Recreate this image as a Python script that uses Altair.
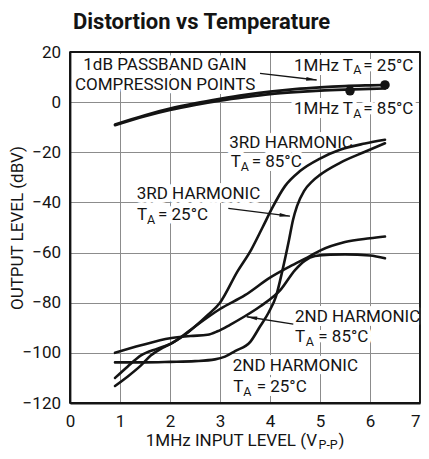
import math
import altair as alt
import pandas as pd

# ---------------- data ----------------
gain25_x = [0.9, 1.5, 2.0, 2.5, 3.0, 3.5, 4.0, 4.5, 5.0, 5.5, 6.0, 6.3]
gain25_y = [-8.9, -5.2, -2.6, -0.5, 1.3, 2.9, 4.2, 5.2, 5.9, 6.4, 6.7, 6.85]
gain85_x = [0.9, 1.5, 2.0, 2.5, 3.0, 3.5, 4.0, 4.5, 5.0, 5.5, 6.0, 6.3]
gain85_y = [-9.2, -5.6, -3.1, -1.1, 0.6, 2.0, 3.2, 4.0, 4.6, 5.0, 5.3, 5.45]

comp_x = [6.3, 5.6]
comp_y = [6.85, 4.5]

h3_85_x = [0.9, 1.15, 1.42, 1.62, 1.85, 2.05, 2.25, 2.5, 2.75, 3.0, 3.35, 3.62, 3.85,
           4.05, 4.3, 4.6, 5.0, 5.4, 5.9, 6.3]
h3_85_y = [-113.2, -109.5, -105.0, -101.0, -98.0, -96.0, -93.5, -89.5, -85.0, -80.0,
           -67.5, -59.0, -50.0, -42.0, -33.5, -27.5, -22.5, -19.0, -16.5, -15.0]

h3_25_x = [0.9, 1.5, 2.0, 2.5, 2.9, 3.1, 3.3, 3.61, 3.8, 3.97, 4.12, 4.25, 4.38, 4.46,
           4.54, 4.68, 4.85, 5.0, 5.4, 5.9, 6.3]
h3_25_y = [-103.8, -103.8, -103.6, -103.3, -102.6, -101.5, -99.3, -95.5, -89.5, -84.0,
           -77.5, -67.0, -55.0, -47.0, -41.5, -35.5, -31.5, -29.0, -24.2, -19.8, -16.4]

h2_85_x = [0.9, 1.15, 1.42, 1.75, 2.0, 2.2, 2.5, 3.0, 3.5, 4.0, 4.4, 4.78, 5.0, 5.5,
           6.0, 6.3]
h2_85_y = [-110.0, -105.5, -101.0, -98.3, -96.5, -94.0, -89.5, -82.5, -77.0, -70.0,
           -65.5, -61.6, -59.2, -55.8, -54.3, -53.6]

h2_25_x = [0.9, 1.42, 2.0, 2.41, 2.75, 2.95, 3.2, 3.48, 3.8, 4.21, 4.5, 4.7, 4.9, 5.2,
           5.5, 6.0, 6.3]
h2_25_y = [-100.0, -97.0, -94.2, -93.3, -92.8, -91.4, -88.8, -85.6, -81.5, -74.9,
           -67.0, -63.2, -61.4, -60.8, -60.7, -61.2, -62.3]

x_ticks = [0, 1, 2, 3, 4, 5, 6, 7]
y_ticks = [-120, -100, -80, -60, -40, -20, 0, 20]

# annotation texts (anchor in data units) ----------------
ann_text = ["1dB PASSBAND GAIN", "COMPRESSION POINTS",
            "1MHz", "T", "A", "= 25°C",
            "1MHz", "T", "A", "= 85°C",
            "3RD HARMONIC", "T", "A", "= 85°C",
            "3RD HARMONIC", "T", "A", "= 25°C",
            "2ND HARMONIC", "T", "A", "= 85°C",
            "2ND HARMONIC", "T", "A", "= 25°C"]
ann_x = [0.266, 0.10,
         5.38, 5.454, 5.666, 5.866,
         5.38, 5.454, 5.666, 5.866,
         3.186, 3.214, 3.414, 3.634,
         1.334, 1.34, 1.54, 1.76,
         4.5, 4.5, 4.714, 4.966,
         3.254, 3.266, 3.466, 3.734]
ann_y = [12.82, 4.84,
         12.42, 12.42, 11.2, 12.42,
         -4.85, -4.85, -6.5, -4.85,
         -18.41, -25.75, -27.6, -25.75,
         -38.64, -47.01, -48.8, -47.01,
         -87.58, -95.56, -97.4, -95.56,
         -107.24, -115.5, -117.4, -115.5]
ann_kind = ["main", "main",
            "right", "main", "sub", "main",
            "right", "main", "sub", "main",
            "main", "main", "sub", "main",
            "main", "main", "sub", "main",
            "main", "main", "sub", "main",
            "main", "main", "sub", "main"]

# arrows: tail -> tip
arr_x = [3.8, 3.166, 4.466]
arr_y = [11.5, -42.4, -88.5]
arr_x2 = [4.934, 4.40, 3.534]
arr_y2 = [8.83, -45.5, -85.6]

# ---------------- build tables ----------------
W, H = 350, 351
XMIN, XMAX, YMIN, YMAX = 0, 7, -120, 20

def series(name, xs, ys):
    return pd.DataFrame({"x": xs, "y": ys, "s": name})

gain_df = pd.concat([series("g25", gain25_x, gain25_y), series("g85", gain85_x, gain85_y)])
harm_df = pd.concat([series("h3_85", h3_85_x, h3_85_y), series("h3_25", h3_25_x, h3_25_y),
                     series("h2_85", h2_85_x, h2_85_y), series("h2_25", h2_25_x, h2_25_y)])
comp_df = pd.DataFrame({"x": comp_x, "y": comp_y})
ann_df = pd.DataFrame({"x": ann_x, "y": ann_y, "t": ann_text, "k": ann_kind})
one_df = pd.DataFrame({"o": [0]})
# plot frame = the axis domain extents
frame_df = pd.DataFrame({
    "x": [XMIN, XMAX, XMIN, XMIN], "x2": [XMIN, XMAX, XMAX, XMAX],
    "y": [YMIN, YMIN, YMIN, YMAX], "y2": [YMAX, YMAX, YMIN, YMAX]})

sx = W / (XMAX - XMIN)
sy = H / (YMAX - YMIN)
angles = []
for a, b, c, d in zip(arr_x, arr_y, arr_x2, arr_y2):
    dxp = (c - a) * sx
    dyp = -(d - b) * sy
    angles.append(math.degrees(math.atan2(dxp, -dyp)) % 360)
arr_df = pd.DataFrame({"x": arr_x, "y": arr_y, "x2": arr_x2, "y2": arr_y2, "ang": angles})

FONT = "Roboto"
MAIN = 17
SUB = 12.5
INK = "#141414"

xs = alt.Scale(domain=[XMIN, XMAX], nice=False, zero=False)
ys = alt.Scale(domain=[YMIN, YMAX], nice=False, zero=False)

X = alt.X("x:Q", scale=xs, axis=alt.Axis(
    values=x_ticks, title=None, grid=True, ticks=False, domain=True, domainColor=INK,
    domainWidth=1.8, labelPadding=10, labelFlush=False,
    labelAlign={"condition": {"test": "datum.value == 7", "value": "right"}, "value": "center"}))
Y = alt.Y("y:Q", scale=ys, axis=alt.Axis(values=y_ticks, title="OUTPUT LEVEL (dBV)", grid=True,
                                        ticks=False, domain=True, domainColor=INK,
                                        domainWidth=1.8, labelPadding=9.5,
                                        labelFlush=False, titleX=-48, titleY=175.5,
                                        titleAngle=270, titleAlign="center",
                                        titleBaseline="alphabetic"))

# the frame layer carries the scales and axes and is drawn last
frame = alt.Chart(frame_df).mark_rule(color=INK, strokeWidth=1.8).encode(
    x=X, x2="x2:Q", y=Y, y2="y2:Q")

base_ann = alt.Chart(ann_df)


def text_layer(kind, size, align, halo):
    props = dict(font=FONT, fontSize=size, align=align, baseline="alphabetic")
    if halo:
        props.update(color="white", stroke="white", strokeWidth=8, strokeJoin="round")
    else:
        props.update(color=INK)
    return base_ann.transform_filter(alt.datum.k == kind).mark_text(**props)


halo_main = text_layer("main", MAIN, "left", True).encode(x="x:Q", y="y:Q", text="t:N")
halo_right = text_layer("right", MAIN, "right", True).encode(x="x:Q", y="y:Q", text="t:N")
halo_sub = text_layer("sub", SUB, "left", True).encode(x="x:Q", y="y:Q", text="t:N")

gain_lines = alt.Chart(gain_df).mark_line(
    interpolate="monotone", strokeWidth=2.7, color=INK, strokeCap="round"
).encode(x="x:Q", y="y:Q", detail="s:N")

harm_lines = alt.Chart(harm_df).mark_line(
    interpolate="monotone", strokeWidth=2.6, color=INK, strokeCap="round"
).encode(x="x:Q", y="y:Q", detail="s:N")

dots = alt.Chart(comp_df).mark_point(filled=True, size=90, color=INK, opacity=1).encode(
    x="x:Q", y="y:Q")

arrow_lines = alt.Chart(arr_df).mark_rule(color=INK, strokeWidth=1.3).encode(
    x="x:Q", y="y:Q", x2="x2:Q", y2="y2:Q")
arrow_heads = alt.Chart(arr_df).mark_point(
    shape="M0,0L0.36,2L-0.36,2Z", filled=True, size=110, color=INK, opacity=1
).encode(x="x2:Q", y="y2:Q", angle=alt.Angle("ang:Q", scale=None))

txt_main = text_layer("main", MAIN, "left", False).encode(x="x:Q", y="y:Q", text="t:N")
txt_right = text_layer("right", MAIN, "right", False).encode(x="x:Q", y="y:Q", text="t:N")
txt_sub = text_layer("sub", SUB, "left", False).encode(x="x:Q", y="y:Q", text="t:N")

title = alt.Chart(one_df).mark_text(
    text="Distortion vs Temperature", font=FONT, fontWeight="bold",
    fontSize=22, align="left", baseline="alphabetic", color=INK
).encode(x=alt.value(3), y=alt.value(-22.7))

xt1 = alt.Chart(one_df).mark_text(
    text="1MHz INPUT LEVEL (V", font=FONT, fontSize=MAIN, align="right",
    baseline="alphabetic", color=INK).encode(x=alt.value(247), y=alt.value(394))
xt2 = alt.Chart(one_df).mark_text(
    text="P-P", font=FONT, fontSize=SUB, align="left",
    baseline="alphabetic", color=INK).encode(x=alt.value(248.5), y=alt.value(397.3))
xt3 = alt.Chart(one_df).mark_text(
    text=")", font=FONT, fontSize=MAIN, align="left",
    baseline="alphabetic", color=INK).encode(x=alt.value(268.5), y=alt.value(394))

chart = alt.layer(
    halo_main, halo_right, halo_sub, gain_lines, harm_lines, dots, arrow_lines,
    arrow_heads, txt_main, txt_right, txt_sub, title, xt1, xt2, xt3, frame
).properties(
    width=W, height=H,
    autosize=alt.AutoSizeParams(type="none"),
    padding={"left": 62, "top": 44, "right": 1, "bottom": 48},
    background="white",
).configure_view(
    stroke=INK, strokeWidth=1.6
).configure_axis(
    gridColor="#8c8c8c", gridWidth=1, gridOpacity=1,
    labelFont=FONT, labelFontSize=MAIN, labelColor=INK,
    titleFont=FONT, titleFontSize=MAIN, titleFontWeight="normal", titleColor=INK
)

chart.save("out.html", embed_options={"renderer": "svg", "actions": False})
